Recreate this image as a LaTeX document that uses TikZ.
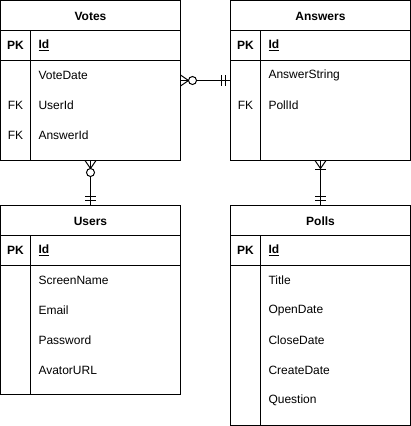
\documentclass[tikz,border=0pt]{standalone}
\usepackage{fontspec}
\setmainfont{Liberation Sans}
\begin{document}
\begin{tikzpicture}[x=1pt,y=-1pt,line width=1pt,
  tbl/.style={draw=black,anchor=north west,inner sep=0pt,outer sep=0pt},
  hdr/.style={font=\fontsize{12}{14}\selectfont\bfseries,anchor=center,inner sep=0pt},
  key/.style={font=\fontsize{12}{14}\selectfont,anchor=center,inner sep=0pt},
  pkey/.style={font=\fontsize{12}{14}\selectfont\bfseries,anchor=center,inner sep=0pt},
  fld/.style={font=\fontsize{12}{14}\selectfont,anchor=west,inner sep=0pt},
  pkf/.style={font=\fontsize{12}{14}\selectfont\bfseries,anchor=west,inner sep=0pt},
  ring/.style={draw=black,fill=white,circle,inner sep=0pt,minimum size=8pt}]
\useasboundingbox (0,0) rectangle (411,426);

% ---------- Votes ----------
\node[tbl,minimum width=180pt,minimum height=160pt] (votes) at (0.5,0.5) {};
\draw (0.5,30.5) -- (180.5,30.5) (0.5,60.5) -- (180.5,60.5) (30.5,30.5) -- (30.5,160.5);
\node[hdr] (votesT) at (90.5,16) {Votes};
\node[pkey] (votesPK) at (15.5,45.5) {PK};
\node[pkf] (votesId) at (38,45.5) {\underline{Id}};
\node[fld] (votesF1) at (38,75.5) {VoteDate};
\node[key] (votesK2) at (15.5,105.5) {FK};
\node[fld] (votesF2) at (38,105.5) {UserId};
\node[key] (votesK3) at (15.5,135.5) {FK};
\node[fld] (votesF3) at (38,135.5) {AnswerId};

% ---------- Answers ----------
\node[tbl,minimum width=180pt,minimum height=160pt] (answers) at (230.5,0.5) {};
\draw (230.5,30.5) -- (410.5,30.5) (230.5,60.5) -- (410.5,60.5) (260.5,30.5) -- (260.5,160.5);
\node[hdr] (answersT) at (320.5,16) {Answers};
\node[pkey] (answersPK) at (245.5,45.5) {PK};
\node[pkf] (answersId) at (268,45.5) {\underline{Id}};
\node[fld] (answersF1) at (268,75.5) {AnswerString};
\node[key] (answersK2) at (245.5,105.5) {FK};
\node[fld] (answersF2) at (268,105.5) {PollId};

% ---------- Users ----------
\node[tbl,minimum width=180pt,minimum height=189pt] (users) at (0.5,205.5) {};
\draw (0.5,235.5) -- (180.5,235.5) (0.5,265.5) -- (180.5,265.5) (30.5,235.5) -- (30.5,394.5);
\node[hdr] (usersT) at (90.5,221) {Users};
\node[pkey] (usersPK) at (15.5,250.5) {PK};
\node[pkf] (usersId) at (38,250.5) {\underline{Id}};
\node[fld] (usersF1) at (38,280.5) {ScreenName};
\node[fld] (usersF2) at (38,310.5) {Email};
\node[fld] (usersF3) at (38,340.5) {Password};
\node[fld] (usersF4) at (38,370.5) {AvatorURL};

% ---------- Polls ----------
\node[tbl,minimum width=180pt,minimum height=220pt] (polls) at (230.5,205.5) {};
\draw (230.5,235.5) -- (410.5,235.5) (230.5,265.5) -- (410.5,265.5) (260.5,235.5) -- (260.5,425.5);
\node[hdr] (pollsT) at (320.5,221) {Polls};
\node[pkey] (pollsPK) at (245.5,250.5) {PK};
\node[pkf] (pollsId) at (268,250.5) {\underline{Id}};
\node[fld] (pollsF1) at (268,280.5) {Title};
\node[fld] (pollsF2) at (268,310.5) {OpenDate};
\node[fld] (pollsF3) at (268,340.5) {CloseDate};
\node[fld] (pollsF4) at (268,370.5) {CreateDate};
\node[fld] (pollsF5) at (268,400.5) {Question};

% ---------- Votes -- Answers (zero-or-many to one) ----------
\coordinate (c1a) at (votes.east |- 0,80.5);
\coordinate (c1b) at (answers.west |- 0,80.5);
\draw (c1a) -- (c1b);
\draw ([yshift=5.5pt]c1a) -- ([xshift=8pt]c1a) -- ([yshift=-5.5pt]c1a);
\node[ring] (c1r) at ([xshift=12pt]c1a) {};
\draw ([xshift=-5pt,yshift=5.5pt]c1b) -- ([xshift=-5pt,yshift=-5.5pt]c1b)
      ([xshift=-9pt,yshift=5.5pt]c1b) -- ([xshift=-9pt,yshift=-5.5pt]c1b);

% ---------- Votes -- Users (zero-or-many to one) ----------
\coordinate (c2a) at (votes.south -| 90.5,0);
\coordinate (c2b) at (users.north -| 90.5,0);
\draw (c2a) -- (c2b);
\draw ([xshift=-5.5pt]c2a) -- ([yshift=-8pt]c2a) -- ([xshift=5.5pt]c2a);
\node[ring] (c2r) at ([yshift=-12pt]c2a) {};
\draw ([xshift=-5.5pt,yshift=5pt]c2b) -- ([xshift=5.5pt,yshift=5pt]c2b)
      ([xshift=-5.5pt,yshift=9pt]c2b) -- ([xshift=5.5pt,yshift=9pt]c2b);

% ---------- Answers -- Polls (one-or-many to one) ----------
\coordinate (c3a) at (answers.south -| 320.5,0);
\coordinate (c3b) at (polls.north -| 320.5,0);
\draw (c3a) -- (c3b);
\draw ([xshift=-5.5pt]c3a) -- ([yshift=-8pt]c3a) -- ([xshift=5.5pt]c3a);
\draw ([xshift=-5.5pt,yshift=-9pt]c3a) -- ([xshift=5.5pt,yshift=-9pt]c3a);
\draw ([xshift=-5.5pt,yshift=5pt]c3b) -- ([xshift=5.5pt,yshift=5pt]c3b)
      ([xshift=-5.5pt,yshift=9pt]c3b) -- ([xshift=5.5pt,yshift=9pt]c3b);
\end{tikzpicture}
\end{document}
